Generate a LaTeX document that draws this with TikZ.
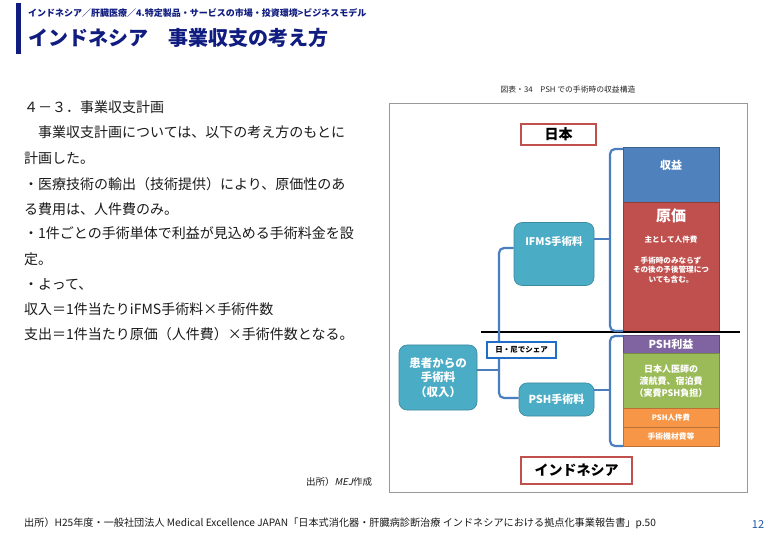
\documentclass[tikz,border=0pt]{standalone}
\usepackage{fontspec}
\setmainfont{Noto Sans CJK JP}
\newfontfamily\slantjp[FakeSlant=0.2]{Noto Sans CJK JP}
\usetikzlibrary{positioning}
\definecolor{navy}{HTML}{101C80}
\definecolor{bodytxt}{HTML}{1A1A1A}
\definecolor{cblue}{HTML}{4F81BD}
\definecolor{cred}{HTML}{C0504D}
\definecolor{cpurple}{HTML}{8064A2}
\definecolor{cgreen}{HTML}{9BBB59}
\definecolor{corange}{HTML}{F79646}
\definecolor{cteal}{HTML}{4BACC6}
\definecolor{lineblue}{HTML}{4A7EBF}
\definecolor{sharebl}{HTML}{1F6FC8}
\definecolor{pgnum}{HTML}{1F5AA6}
\tikzset{
  bodyline/.style={anchor=west, inner sep=0pt, text=bodytxt, font=\fontsize{14}{16}\selectfont},
  stackbox/.style={draw=#1!75!black, fill=#1, line width=0.6pt},
  wtext/.style={text=white, inner sep=0pt, align=center, font=\bfseries\fontsize{#1}{#1}\selectfont},
  tealbox/.style={draw=cteal!80!black, fill=cteal, rounded corners=8pt, line width=0.6pt},
  bracel/.style={draw=lineblue, line width=2.2pt, rounded corners=5pt},
  countrybox/.style={draw=cred, fill=white, line width=1.4pt, inner sep=0pt,
    font=\bfseries\fontsize{14}{14}\selectfont},
}
\begin{document}
\begin{tikzpicture}[x=1pt,y=-1pt]
\useasboundingbox (0,0) rectangle (780,540);
\fill[white] (0,0) rectangle (780,540);
% header
\fill[navy] (16,3) rectangle (21,54);
\node[anchor=west, inner sep=0pt, text=navy, font=\bfseries\fontsize{9}{9}\selectfont] (crumb) at (28,13)
  {インドネシア／肝臓医療／4.特定製品・サービスの市場・投資環境>ビジネスモデル};
\node[anchor=west, inner sep=0pt, text=navy, font=\bfseries\fontsize{20}{20}\selectfont] (title) at (28,38)
  {インドネシア　事業収支の考え方};
% left body text
\node[bodyline] (l1) at (24,107) {４－３．事業収支計画};
\node[bodyline] (l2) at (24,132) {　事業収支計画については、以下の考え方のもとに};
\node[bodyline] (l3) at (24,158) {計画した。};
\node[bodyline] (l4) at (24,184) {・医療技術の輸出（技術提供）により、原価性のあ};
\node[bodyline] (l5) at (24,209) {る費用は、人件費のみ。};
\node[bodyline] (l6) at (24,233) {・1件ごとの手術単体で利益が見込める手術料金を設};
\node[bodyline] (l7) at (24,259) {定。};
\node[bodyline] (l8) at (24,284) {・よって、};
\node[bodyline] (l9) at (24,309) {収入＝1件当たりiFMS手術料×手術件数};
\node[bodyline] (l10) at (24,334) {支出＝1件当たり原価（人件費）×手術件数となる。};
\node[anchor=west, inner sep=0pt, text=bodytxt, font=\fontsize{9.5}{9.5}\selectfont] (src1) at (306,482)
  {出所）{\slantjp MEJ}作成};
% diagram caption & frame
\node[inner sep=0pt, text=black!85, font=\fontsize{7.8}{7.8}\selectfont] (cap) at (568,90)
  {図表・34　PSH での手術時の収益構造};
\draw[black!40, line width=0.8pt] (389,103) rectangle (747,492);
% stack column
\draw[stackbox=cblue] (623,147) rectangle (719,202);
\draw[stackbox=cred] (623,202) rectangle (719,332);
\draw[stackbox=cpurple] (623,335) rectangle (719,353);
\draw[stackbox=cgreen] (623,353) rectangle (719,408);
\draw[stackbox=corange] (623,408) rectangle (719,427);
\draw[stackbox=corange] (623,427) rectangle (719,446);
\node[wtext=11] (shueki) at (671,165) {収益};
\node[wtext=15] (genka) at (671,216) {原価};
\node[wtext=7.6] (genka2) at (671,240) {主として人件費};
\node[wtext=7.6, align=center] (genka3) at (671,270) {手術時のみならず\\[2.2pt]その後の予後管理につ\\[2.2pt]いても含む。};
\node[wtext=11] (pshrieki) at (671,344) {PSH利益};
\node[wtext=9, align=center] (green) at (671,381) {日本人医師の\\[3pt]渡航費、宿泊費\\[3pt]（実費PSH負担）};
\node[wtext=7.5] (pshjin) at (671,418) {PSH人件費};
\node[wtext=7.8] (kizai) at (671,437) {手術機材費等};
% divider
\draw[black, line width=2.2pt] (481,332) -- (740,332);
% country labels
\node[countrybox, minimum width=75pt, minimum height=21pt] (japan) at (558.5,134.5) {日本};
\node[countrybox, minimum width=111pt, minimum height=27pt] (indo) at (576.5,470.5) {インドネシア};
% teal boxes
\node[tealbox, minimum width=80pt, minimum height=63pt] (ifms) at (554,254) {};
\node[wtext=10.5] (ifmst) at (554,241) {IFMS手術料};
\node[tealbox, minimum width=75pt, minimum height=33pt] (psh) at (556.5,399.5) {};
\node[wtext=11] (psht) at (556.5,399.5) {PSH手術料};
\node[tealbox, minimum width=78pt, minimum height=65pt] (patient) at (438,377.5) {};
\node[wtext=11.5, align=center] (patientt) at (438,377.5) {患者からの\\[3pt]手術料\\[3pt]（収入）};
% connectors / braces
\coordinate (bu) at (610,239);
\coordinate (bl) at (610,390);
\coordinate (bp) at (499,370);
\draw[bracel] (ifms.east |- bu) -- (bu);
\draw[bracel] (623,149) -| (bu) |- (623,331);
\draw[bracel] (psh.east |- bl) -- (bl);
\draw[bracel] (623,336) -| (bl) |- (623,446);
\draw[bracel] (patient.east |- bp) -- (bp);
\draw[bracel] (ifms.west |- 0,248) -| (bp) |- (psh.west |- 0,398);
% share label
\node[draw=sharebl, fill=white, line width=1.6pt, inner sep=0pt, minimum width=69pt, minimum height=16pt,
  font=\bfseries\fontsize{7.5}{7.5}\selectfont] (share) at (521.5,350) {日・尼でシェア};
% footer
\node[anchor=west, inner sep=0pt, text=bodytxt, font=\fontsize{10.15}{10.15}\selectfont] (foot) at (24,523)
  {出所）H25年度・一般社団法人 Medical Excellence JAPAN「日本式消化器・肝臓病診断治療 インドネシアにおける拠点化事業報告書」p.50};
\node[inner sep=0pt, text=pgnum, font=\fontsize{11}{11}\selectfont] (page) at (758,525) {12};
\end{tikzpicture}
\end{document}
